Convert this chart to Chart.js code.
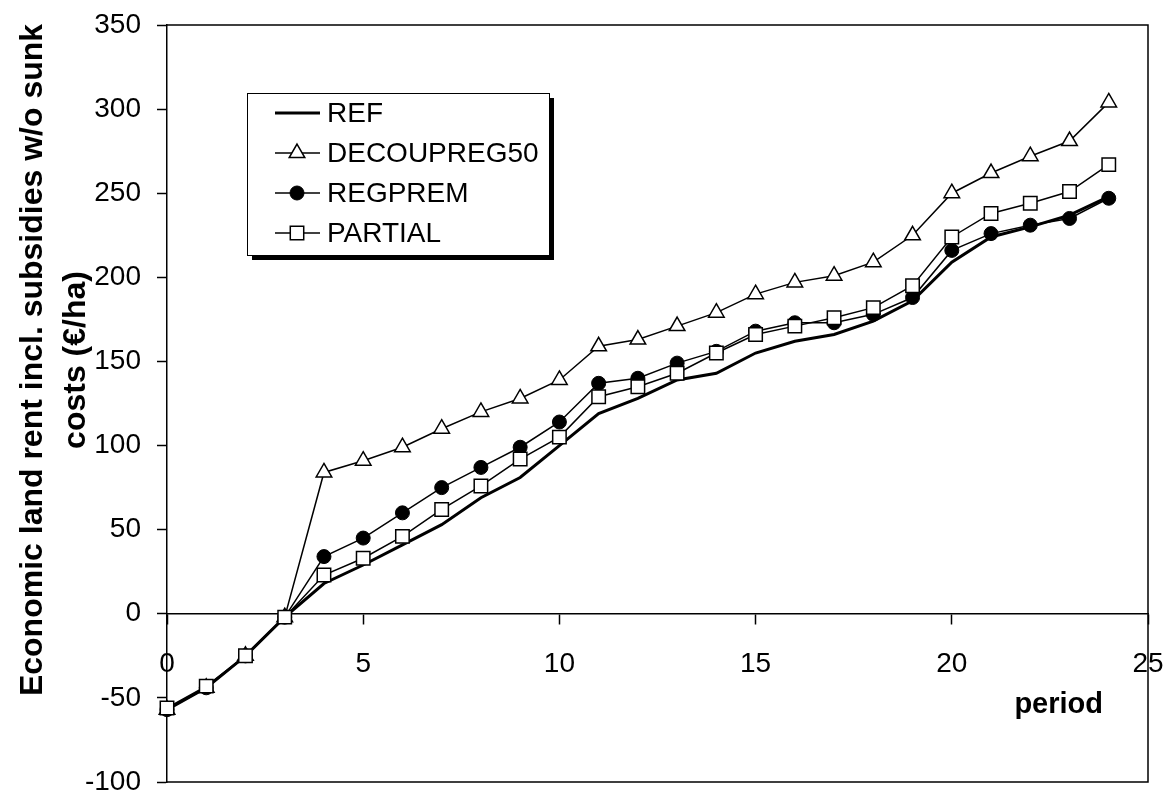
<!DOCTYPE html>
<html>
<head>
<meta charset="utf-8">
<script src="https://cdn.jsdelivr.net/npm/chart.js@4"></script>
<style>
  html, body { margin: 0; padding: 0; background: #fff; }
  #wrap { width: 1171px; height: 796px; }
</style>
</head>
<body>
<div id="wrap"><canvas id="myChart" width="1171" height="796"></canvas></div>
<script>
// data
const periods = [0, 1, 2, 3, 4, 5, 6, 7, 8, 9, 10, 11, 12, 13, 14, 15, 16, 17, 18, 19, 20, 21, 22, 23, 24];
const refValues = [-57, -44, -25, -2, 18, 29, 41, 53, 69, 81, 100, 119, 128, 139, 143, 155, 162, 166, 174, 186, 209, 224, 230, 237, 248];
const decoupValues = [-57, -44, -25, -2, 84, 91, 99, 110, 120, 128, 139, 159, 163, 171, 179, 190, 197, 201, 209, 225, 250, 262, 272, 281, 304];
const regpremValues = [-57, -44, -25, -2, 34, 45, 60, 75, 87, 99, 114, 137, 140, 149, 156, 168, 173, 173, 178, 188, 216, 226, 231, 235, 247];
const partialValues = [-56, -43, -25, -2, 23, 33, 46, 62, 76, 92, 105, 129, 135, 143, 155, 166, 171, 176, 182, 195, 224, 238, 244, 251, 267];
const seriesNames = ["REF", "DECOUPREG50", "REGPREM", "PARTIAL"];
const yTitle = ["Economic land rent incl. subsidies w/o sunk", "costs (\u20ac/ha)"];
const xTitle = "period";

const fontFam = '"Liberation Sans", Arial, sans-serif';

function pts(vals) {
  return periods.map((p, i) => ({ x: p, y: vals[i] }));
}

function drawMarker(ctx, style, x, y, r) {
  ctx.beginPath();
  if (style === 'triangle') {
    let a = 0;
    ctx.moveTo(x + Math.sin(a) * r, y - Math.cos(a) * r);
    a += 2 * Math.PI / 3;
    ctx.lineTo(x + Math.sin(a) * r, y - Math.cos(a) * r);
    a += 2 * Math.PI / 3;
    ctx.lineTo(x + Math.sin(a) * r, y - Math.cos(a) * r);
    ctx.closePath();
  } else if (style === 'rect') {
    const s = r / Math.SQRT2;
    ctx.rect(x - s, y - s, 2 * s, 2 * s);
  } else if (style === 'circle') {
    ctx.arc(x, y, r, 0, Math.PI * 2);
  }
  ctx.fill();
  ctx.stroke();
}

// frame, titles and legend box
const extras = {
  id: 'extras',
  beforeDatasetsDraw(chart) {
    const ctx = chart.ctx, a = chart.chartArea;
    ctx.save();
    ctx.strokeStyle = '#000';
    ctx.lineWidth = 1.5;
    ctx.beginPath();
    ctx.moveTo(a.left, a.top);
    ctx.lineTo(a.right, a.top);
    ctx.lineTo(a.right, a.bottom);
    ctx.lineTo(a.left, a.bottom);
    ctx.stroke();
    ctx.restore();
  },
  afterDraw(chart) {
    const ctx = chart.ctx;
    ctx.save();
    // y title
    ctx.fillStyle = '#000';
    ctx.font = 'bold 32px ' + fontFam;
    ctx.textAlign = 'center';
    ctx.textBaseline = 'middle';
    ctx.translate(33, 360);
    ctx.rotate(-Math.PI / 2);
    ctx.fillText(yTitle[0], 0, 0);
    ctx.fillText(yTitle[1], 0, 43);
    ctx.restore();

    ctx.save();
    ctx.fillStyle = '#000';
    ctx.font = 'bold 29px ' + fontFam;
    ctx.textAlign = 'right';
    ctx.textBaseline = 'alphabetic';
    ctx.fillText(xTitle, 1103, 713);
    ctx.restore();

    // legend
    ctx.save();
    ctx.fillStyle = '#000';
    ctx.fillRect(252, 98, 302, 162);
    ctx.fillStyle = '#fff';
    ctx.fillRect(247, 93, 302, 162);
    ctx.strokeStyle = '#000';
    ctx.lineWidth = 1;
    ctx.strokeRect(247.5, 93.5, 302, 162);
    const ds = chart.data.datasets;
    for (let i = 0; i < ds.length; i++) {
      const y = 113 + i * 40;
      ctx.strokeStyle = '#000';
      ctx.lineWidth = ds[i].borderWidth;
      ctx.beginPath();
      ctx.moveTo(275, y);
      ctx.lineTo(320, y);
      ctx.stroke();
      if (ds[i].pointRadius > 0) {
        ctx.fillStyle = ds[i].pointBackgroundColor;
        ctx.lineWidth = ds[i].pointBorderWidth;
        drawMarker(ctx, ds[i].pointStyle, 297, y, ds[i].pointRadius);
      }
      ctx.fillStyle = '#000';
      ctx.font = '28px ' + fontFam;
      ctx.textAlign = 'left';
      ctx.textBaseline = 'middle';
      ctx.fillText(ds[i].label, 327, y + 1);
    }
    ctx.restore();
  }
};

new Chart("myChart", {
  type: "line",
  data: {
    datasets: [
      {
        label: seriesNames[0],
        data: pts(refValues),
        borderColor: '#000',
        borderWidth: 3,
        pointRadius: 0,
        pointStyle: 'circle',
        pointBackgroundColor: '#000',
        pointBorderWidth: 1,
        order: 4,
        clip: false
      },
      {
        label: seriesNames[1],
        data: pts(decoupValues),
        borderColor: '#000',
        borderWidth: 1.5,
        pointStyle: 'triangle',
        pointRadius: 9,
        pointBackgroundColor: '#fff',
        pointBorderColor: '#000',
        pointBorderWidth: 1.5,
        order: 3,
        clip: false
      },
      {
        label: seriesNames[2],
        data: pts(regpremValues),
        borderColor: '#000',
        borderWidth: 1.5,
        pointStyle: 'circle',
        pointRadius: 7,
        pointBackgroundColor: '#000',
        pointBorderColor: '#000',
        pointBorderWidth: 1,
        order: 2,
        clip: false
      },
      {
        label: seriesNames[3],
        data: pts(partialValues),
        borderColor: '#000',
        borderWidth: 1.5,
        pointStyle: 'rect',
        pointRadius: 9.5,
        pointBackgroundColor: '#fff',
        pointBorderColor: '#000',
        pointBorderWidth: 1.5,
        order: 1,
        clip: false
      }
    ]
  },
  options: {
    responsive: false,
    animation: false,
    events: [],
    layout: { padding: { left: 0, right: 23, top: 25, bottom: 14 } },
    plugins: {
      legend: { display: false },
      tooltip: { enabled: false },
      title: { display: false }
    },
    scales: {
      x: {
        type: 'linear',
        min: 0,
        max: 25,
        position: { y: 0 },
        ticks: {
          stepSize: 5,
          color: '#000',
          padding: 24,
          maxRotation: 0,
          font: { size: 28, family: fontFam }
        },
        grid: { drawOnChartArea: false, tickLength: 10, tickColor: '#000', tickWidth: 1.5 },
        border: { color: '#000', width: 1.5 },
        afterFit(s) {
          s.height = 0;
          s.paddingLeft = 0;
          s.paddingRight = 0;
        }
      },
      y: {
        min: -100,
        max: 350,
        ticks: {
          stepSize: 50,
          color: '#000',
          padding: 16,
          font: { size: 28, family: fontFam }
        },
        grid: { drawOnChartArea: false, tickLength: 10, tickColor: '#000', tickWidth: 1.5 },
        border: { color: '#000', width: 1.5 },
        afterFit(s) {
          s.width = 167;
          s.paddingTop = 0;
          s.paddingBottom = 0;
        }
      }
    }
  },
  plugins: [extras]
});
</script>
</body>
</html>
